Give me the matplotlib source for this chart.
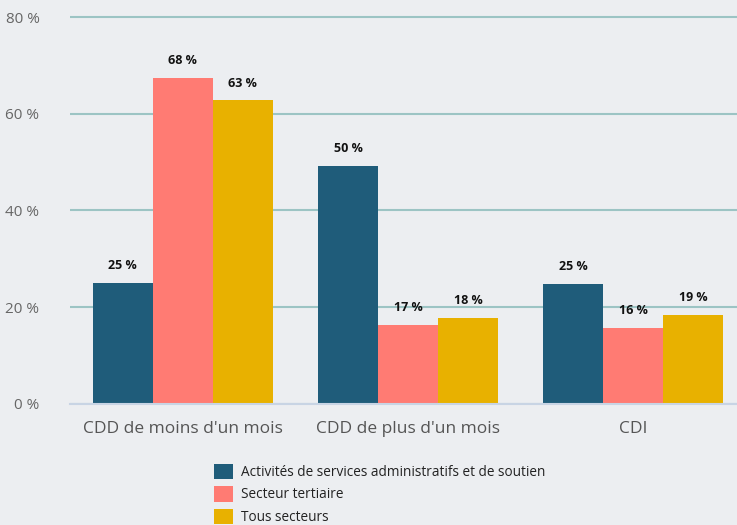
import matplotlib.pyplot as plt
import numpy as np

categories = ["CDD de moins d'un mois", "CDD de plus d'un mois", "CDI"]
series_names = ["Activités de services administratifs et de soutien",
                "Secteur tertiaire", "Tous secteurs"]
admin = [25.0, 49.2, 24.8]
tertiaire = [67.4, 16.3, 15.7]
tous = [62.8, 17.8, 18.4]
admin_labels = ["25 %", "50 %", "25 %"]
tertiaire_labels = ["68 %", "17 %", "16 %"]
tous_labels = ["63 %", "18 %", "19 %"]
yticks = [0, 20, 40, 60, 80]

colors = ['#1f5c7a', '#ff7b73', '#e8b100']
bg = '#eceef1'

plt.rcParams['font.family'] = ['Open Sans', 'DejaVu Sans']

fig = plt.figure(figsize=(7.37, 5.25), dpi=100, facecolor=bg)
# y = 80 at 17 px from the top, y = 0 at 404 px
ymax = 81
ax = fig.add_axes([0.095, 0.2305, 0.905, 0.7371 * ymax / 80])
ax.set_facecolor(bg)

x = np.arange(len(categories))
w = 0.266
series = [admin, tertiaire, tous]
labels = [admin_labels, tertiaire_labels, tous_labels]
for i, (vals, labs) in enumerate(zip(series, labels)):
    pos = x + (i - 1) * w
    ax.bar(pos, vals, width=w, color=colors[i], label=series_names[i], zorder=3)
    for p, v, t in zip(pos, vals, labs):
        ax.text(p, v + 2.2, t, ha='center', va='bottom', fontsize=9,
                fontweight='bold', color='#111111', zorder=4)

ax.set_ylim(0, ymax)
ax.set_xlim(-0.5, 2.46)
ax.set_yticks(yticks)
ax.set_yticklabels([f"{t} %" for t in yticks])
ax.grid(axis='y', color='#9cc4c4', linewidth=1.5, zorder=0)
ax.tick_params(axis='y', length=0, labelsize=11, labelcolor='#666666', pad=22)
ax.set_xticks(x)
ax.set_xticklabels(categories)
ax.tick_params(axis='x', length=0, labelsize=12.5, labelcolor='#555555', pad=12)
for s in ['top', 'right', 'left']:
    ax.spines[s].set_visible(False)
ax.spines['bottom'].set_color('#c8d4e4')
ax.spines['bottom'].set_linewidth(1.5)
ax.spines['bottom'].set_zorder(5)

leg = fig.legend(loc='upper left', bbox_to_anchor=(0.2904, 0.117), frameon=False,
                 fontsize=9.8, handlelength=1.4, handleheight=1.4,
                 labelspacing=0.45, handletextpad=0.55, borderaxespad=0,
                 borderpad=0)
for t in leg.get_texts():
    t.set_color('#222222')

plt.savefig('out.png', dpi=100, facecolor=bg)
